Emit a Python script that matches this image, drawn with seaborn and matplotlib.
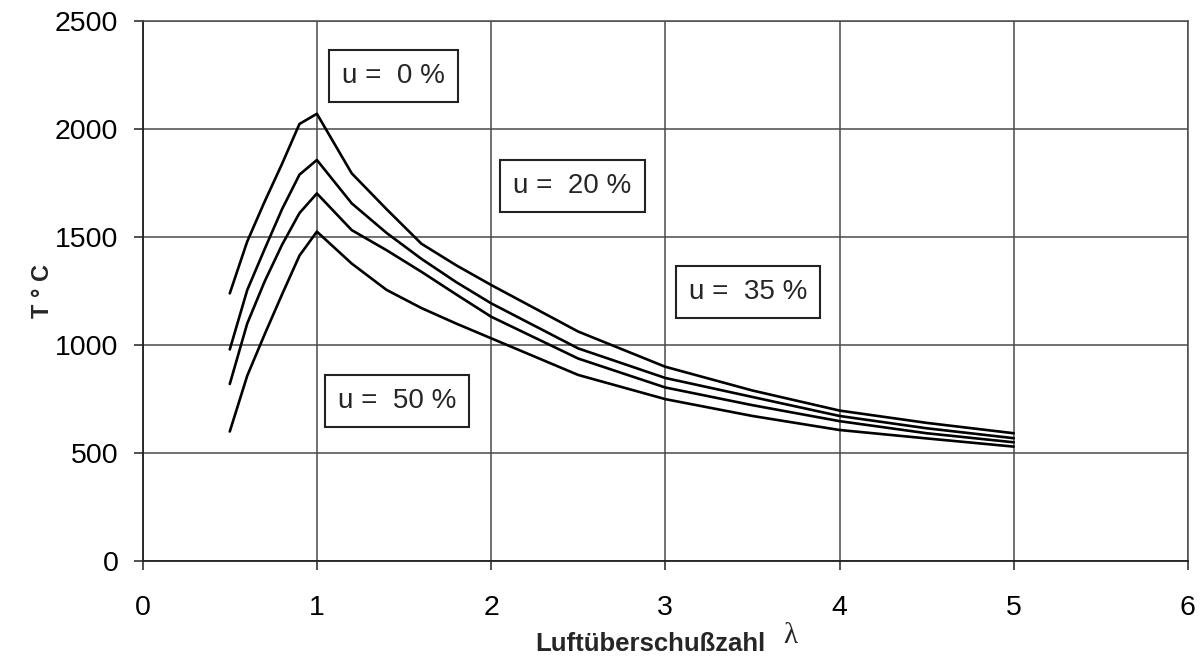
import pandas as pd
import matplotlib
matplotlib.use('Agg')
import matplotlib.pyplot as plt
import seaborn as sns

# Luftüberschusszahl lambda (shared x values)
lam = [0.5, 0.6, 0.7, 0.8, 0.9, 1.0, 1.2, 1.4, 1.6, 1.8, 2.0, 2.5, 3.0, 3.5, 4.0, 4.5, 5.0]

# Temperatur in °C fuer die vier Werte von u
t_u0 = [1240, 1480, 1665, 1840, 2025, 2072, 1796, 1630, 1470, 1370, 1279, 1063, 900, 790, 697, 640, 592]
t_u20 = [980, 1255, 1445, 1630, 1790, 1858, 1657, 1520, 1400, 1292, 1194, 985, 848, 760, 672, 615, 569]
t_u35 = [820, 1100, 1295, 1465, 1612, 1703, 1533, 1440, 1340, 1235, 1132, 938, 804, 722, 648, 592, 550]
t_u50 = [600, 858, 1050, 1235, 1415, 1526, 1378, 1256, 1172, 1100, 1032, 862, 750, 672, 607, 568, 530]

box_texts = ['u =  0 %', 'u =  20 %', 'u =  35 %', 'u =  50 %']
box_x = [1.437, 2.467, 3.475, 1.461]
box_y = [2246, 1738, 1248, 740]

x_ticks = [0, 1, 2, 3, 4, 5, 6]
y_ticks = [0, 500, 1000, 1500, 2000, 2500]

sns.set_theme(style='white')
plt.rcParams['font.family'] = ['Liberation Sans', 'DejaVu Sans']

df = pd.concat([
    pd.DataFrame({'lam': lam, 'T': t, 'u': name})
    for t, name in zip([t_u0, t_u20, t_u35, t_u50], ['0', '20', '35', '50'])
])

fig = plt.figure(figsize=(12.02, 6.67), dpi=100)
ax = fig.add_axes([0.1187, 0.1589, 0.8696, 0.809])

sns.lineplot(data=df, x='lam', y='T', hue='u', palette=['black'] * 4,
             linewidth=1.9, legend=False, ax=ax)

ax.set_xlim(0, 6)
ax.set_ylim(0, 2500)
ax.set_xticks(x_ticks)
ax.set_yticks(y_ticks)
ax.grid(True, color='#4a4a4a', linewidth=1.1)
for side in ['top', 'right']:
    ax.spines[side].set_color('#4a4a4a')
    ax.spines[side].set_linewidth(1.1)
for side in ['left', 'bottom']:
    ax.spines[side].set_color('#222222')
    ax.spines[side].set_linewidth(1.3)

ax.tick_params(axis='both', direction='out', length=6.5, width=1.1, color='#222222',
               labelsize=20.5, labelcolor='black')
ax.tick_params(axis='y', pad=11, left=True)
ax.tick_params(axis='x', pad=18, bottom=True)

ax.set_xlabel('')
ax.set_ylabel('T ° C', fontsize=17, fontweight='bold')
ax.yaxis.set_label_coords(-0.085, 0.5)
fig.text(650 / 1202, 1 - 644 / 667, 'Luftüberschußzahl', fontsize=18.5, fontweight='bold',
         ha='center', va='center')
fig.text(790 / 1202, 1 - 636 / 667, 'λ', fontsize=21, family=['Liberation Serif', 'DejaVu Serif'],
         ha='center', va='center')

for txt, bx, by in zip(box_texts, box_x, box_y):
    ax.text(bx, by, txt, fontsize=20, ha='center', va='center',
            bbox=dict(boxstyle='square,pad=0.47', facecolor='white',
                      edgecolor='#222222', linewidth=1.5))

fig.savefig('out.png', dpi=100)
